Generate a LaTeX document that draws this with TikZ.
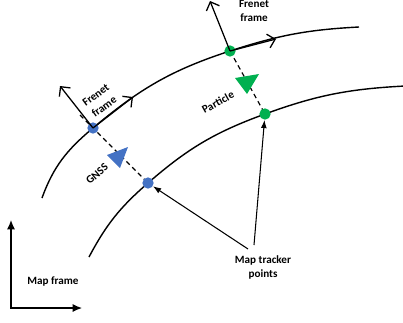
\documentclass[tikz,border=0pt]{standalone}
\usepackage{fontspec}
\setmainfont{Carlito}
\usetikzlibrary{arrows.meta}
\definecolor{gnssblue}{HTML}{4472C4}
\definecolor{partgreen}{HTML}{00B050}
\tikzset{
	trackpt/.style = {circle, inner sep=0pt, minimum size=0.34cm},
	pt_g/.style = {trackpt, fill=gnssblue},% point de voie, GNSS
	pt_p/.style = {trackpt, fill=partgreen},% point de voie, particule
	lbl/.style = {align=center, inner sep=0pt,
		font=\bfseries\fontsize{9.5}{12}\selectfont},
	lane/.style = {line width=1.2pt},% voie
	link/.style = {line width=1pt, dash pattern=on 4pt off 3pt},
	frenet/.style = {line width=1.1pt, -{Straight Barb[length=6pt,width=12pt,line width=1.1pt]}},
	axis/.style = {line width=1.1pt, {Latex[length=8pt,width=7pt]}-{Latex[length=8pt,width=7pt]}},
	pointer/.style = {line width=0.9pt, -{Latex[length=7pt,width=5pt]}}
}
\begin{document}
\begin{tikzpicture}[x=0.03cm, y=0.03cm]
	\useasboundingbox (0,0) rectangle (403,322);
	% points on the lanes
	\coordinate (oS) at (42,124);
	\coordinate (oE) at (359,295);
	\coordinate (iS) at (89,65);
	\coordinate (iE) at (405,236);
	\coordinate (gO) at (93,194);
	\coordinate (pO) at (230,271);
	\coordinate (gI) at (148,139);
	\coordinate (pI) at (265,208);
	% lanes
	\draw[lane] (oS) to[out=70,in=-140] (gO) to[out=40,in=-162] (pO)
		to[out=18,in=-177] (oE);
	\draw[lane] (iS) to[out=62,in=-139] (gI) to[out=41,in=-160] (pI)
		to[out=20,in=-177] (iE);
	\coordinate (gD) at (80,207);
	\draw[link] (gD) -- (gI);
	\draw[link] (pO) -- (pI);
	% heading triangles
	\fill[gnssblue] (107,167) -- (128,175) -- (120,154) -- cycle;
	\fill[partgreen] (235,244) -- (259,248) -- (247,228) -- cycle;
	\node[pt_g] (gnssO) at (gO) {};
	\node[pt_g] (gnssI) at (gI) {};
	\node[pt_p] (partO) at (pO) {};
	\node[pt_p] (partI) at (pI) {};
	% Frenet frames
	\coordinate (gN) at (60,236);
	\coordinate (gT) at (133,225);
	\coordinate (pN) at (210,321);
	\coordinate (pT) at (276,283);
	\draw[frenet] (gnssO.center) -- (gN);
	\draw[frenet] (gnssO.center) -- (gT);
	\draw[frenet] (partO.center) -- (pN);
	\draw[frenet] (partO.center) -- (pT);
	\node[lbl, rotate=36] (frenG) at (100,221) {Frenet\\frame};
	\node[lbl] (frenP) at (254,311) {Frenet\\frame};
	\node[lbl, rotate=29] (partL) at (218,220) {Particle};
	\node[lbl, rotate=41] (gnssL) at (97,148) {GNSS};
	% map frame
	\coordinate (mf) at (11,14);
	\coordinate (mfY) at (11,102);
	\coordinate (mfX) at (82,14);
	\draw[axis] (mfY) -- (mf) -- (mfX);
	\node[lbl] (mfL) at (53,40) {Map frame};
	% map tracker points
	\node[lbl] (mtp) at (263,55) {Map tracker\\points};
	\coordinate (mtA) at (248,73);
	\coordinate (mtB) at (254,77);
	\draw[pointer] (mtA) -- (gnssI);
	\draw[pointer] (mtB) -- (partI);
\end{tikzpicture}
\end{document}
